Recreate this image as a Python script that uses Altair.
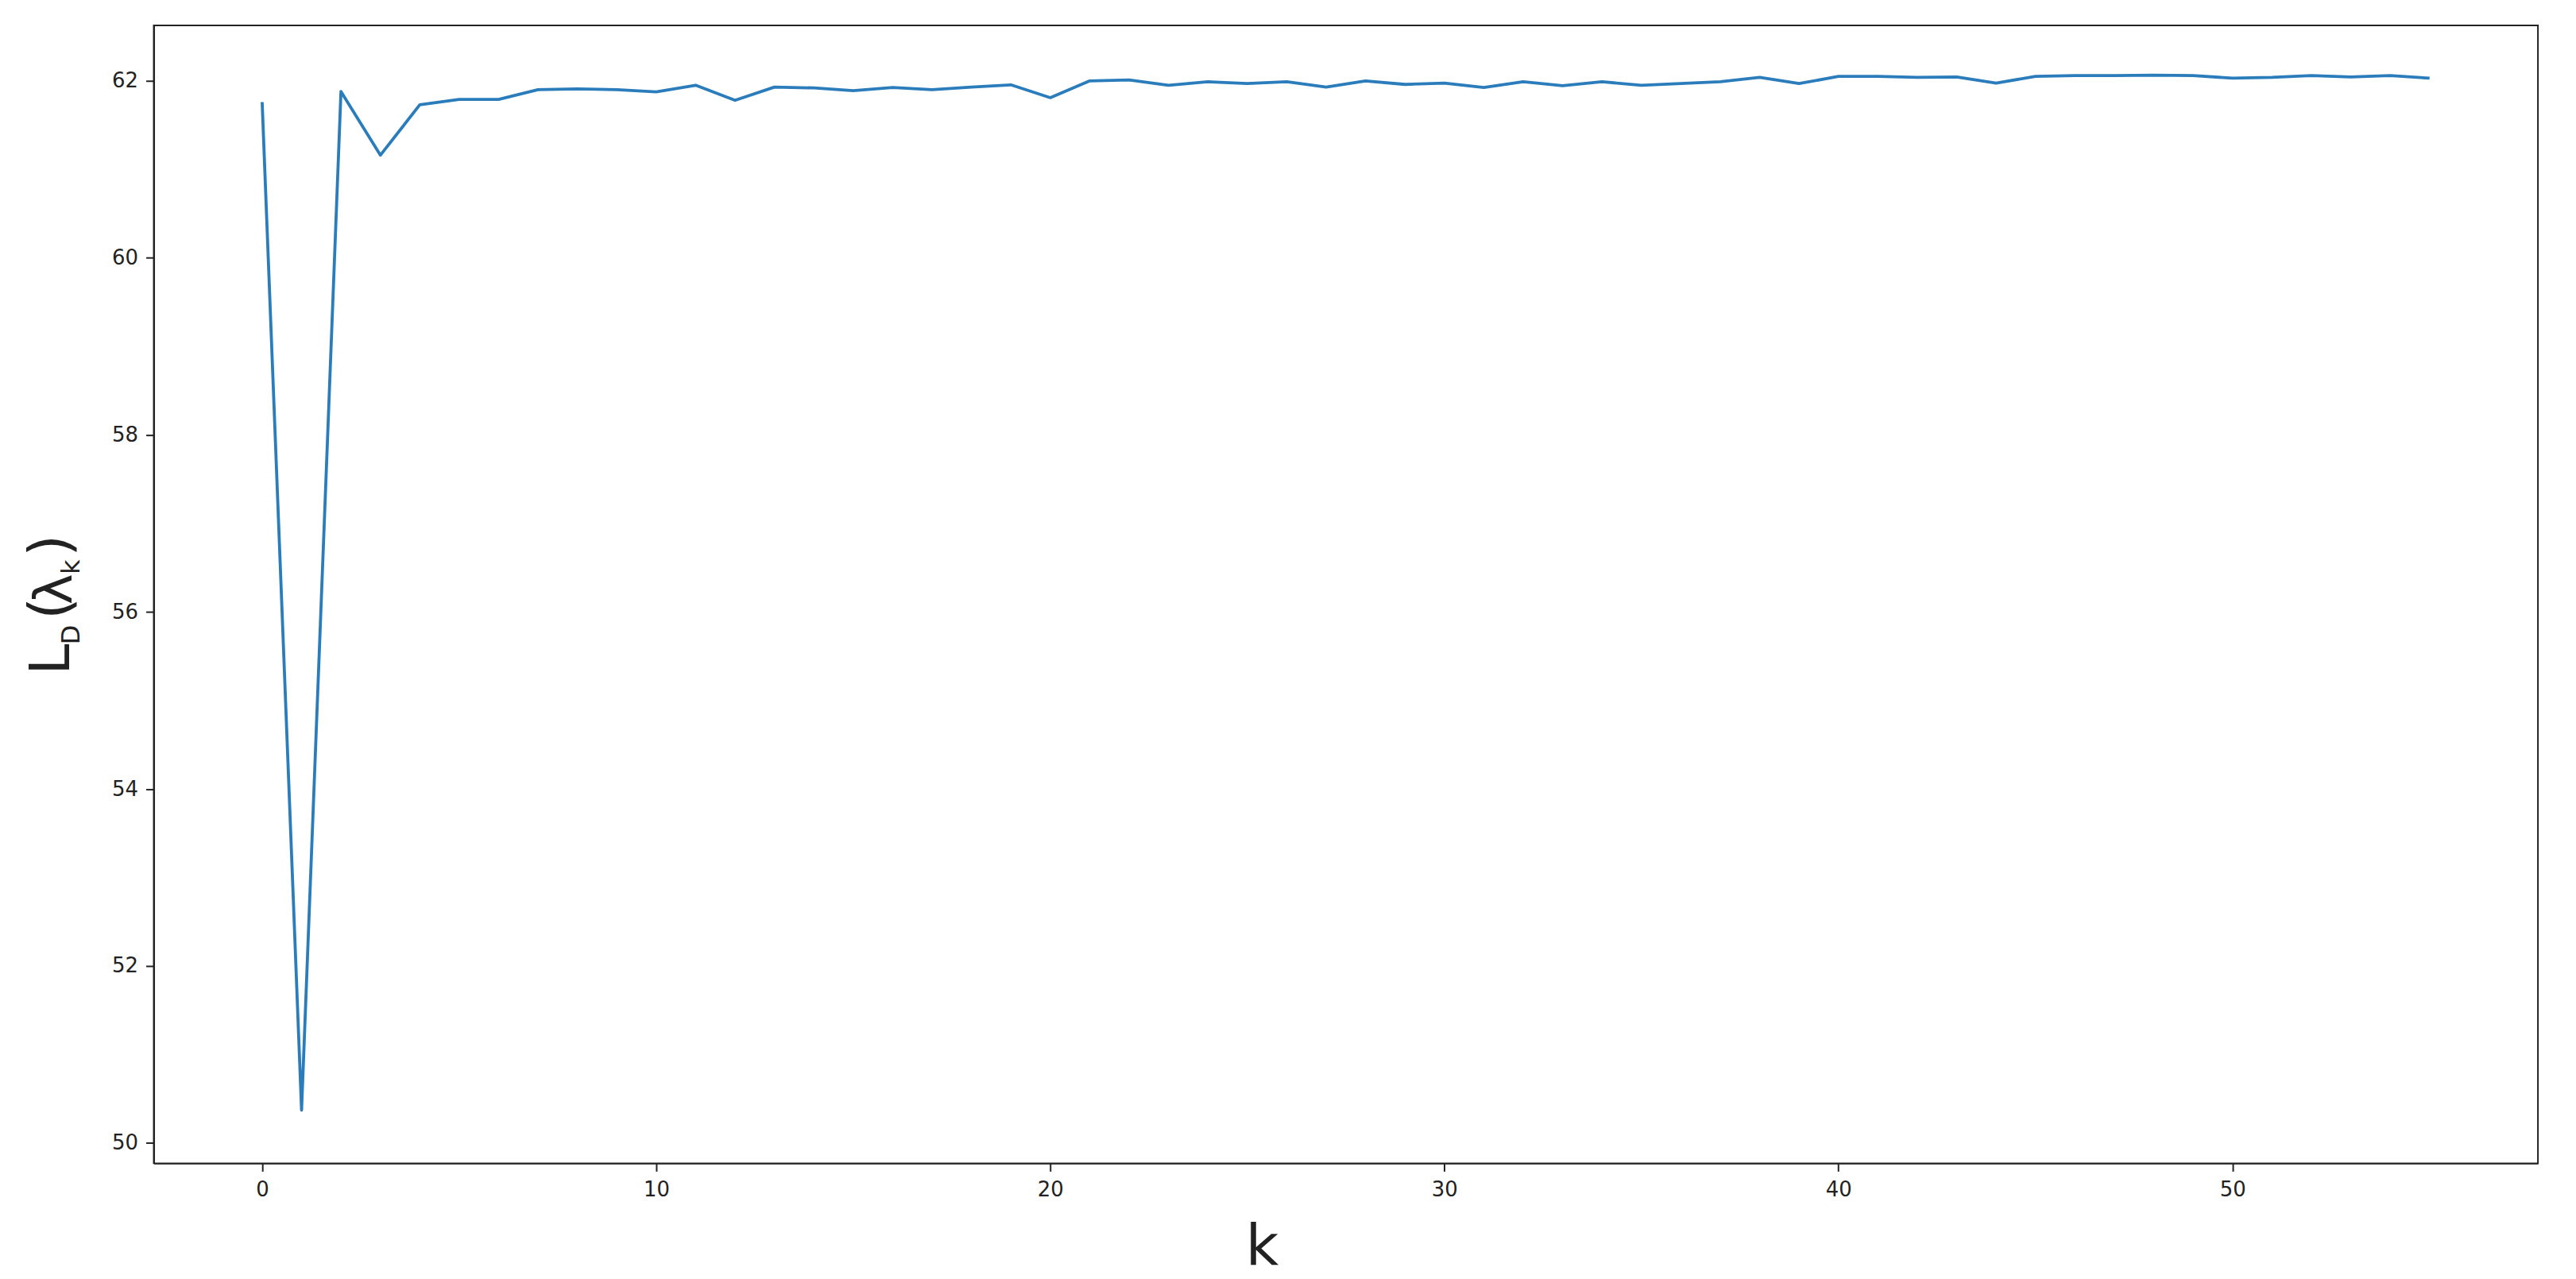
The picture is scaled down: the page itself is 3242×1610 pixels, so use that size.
import altair as alt
import pandas as pd

k_values = list(range(56))
loss_values = [61.76, 50.37, 61.88, 61.16, 61.73, 61.79, 61.79, 61.90, 61.91, 61.90,
               61.875, 61.95, 61.78, 61.93, 61.92, 61.89, 61.925, 61.90, 61.93, 61.955,
               61.81, 62.00, 62.01, 61.95, 61.99, 61.97, 61.99, 61.93, 62.00, 61.96,
               61.975, 61.925, 61.99, 61.945, 61.99, 61.95, 61.97, 61.99, 62.04, 61.97,
               62.05, 62.05, 62.04, 62.045, 61.975, 62.05, 62.06, 62.06, 62.065, 62.06,
               62.03, 62.04, 62.06, 62.045, 62.06, 62.03]
x_ticks = [0, 10, 20, 30, 40, 50]
y_ticks = [50, 52, 54, 56, 58, 60, 62]

df = pd.DataFrame({"k": k_values, "L": loss_values})

W, H = 3008, 1436
TXT = "#222222"
FONT = "DejaVu Sans"

line = alt.Chart(df).mark_line(color="#2a7cba", strokeWidth=3.8, strokeJoin="round").encode(
    x=alt.X("k:Q",
            scale=alt.Scale(domain=[-2.75, 57.75], nice=False, zero=False),
            axis=alt.Axis(values=x_ticks, title="k", titleFontSize=72, titleFont=FONT,
                          titleFontWeight="normal", titleColor=TXT,
                          titleX=1398, titleY=127, titleBaseline="alphabetic",
                          titleAlign="center", titleAngle=0)),
    y=alt.Y("L:Q",
            scale=alt.Scale(domain=[49.77, 62.627], nice=False, zero=False),
            axis=alt.Axis(values=y_ticks, title=None)),
)

# y-axis title pieces: L_D(λ_k)
pieces = [
    ("L", 70, -107, 800),
    ("D", 32, -94, 769),
    ("(", 72, -107, 736),
    ("λ", 66, -104, 711.5),
    ("k", 32, -94, 683.5),
    (")", 72, -107, 656.5),
]
layers = [line]
for txt, size, px, py in pieces:
    layers.append(
        alt.Chart(alt.Data(values=[{"t": txt}])).mark_text(
            text=txt, fontSize=size, font=FONT, color=TXT, angle=270,
            align="center", baseline="alphabetic"
        ).encode(x=alt.value(px), y=alt.value(py))
    )

chart = alt.layer(*layers).properties(
    width=W, height=H,
    autosize=alt.AutoSizeParams(type="none"),
    padding={"left": 186, "top": 22, "right": 40, "bottom": 144},
).configure_view(
    stroke=TXT, strokeWidth=2
).configure_axis(
    grid=False, domainColor=TXT, domainWidth=2, tickColor=TXT, tickWidth=2,
    tickSize=10, labelFontSize=26, labelFont=FONT, labelColor=TXT, labelPadding=10
)

chart.save("out.html", embed_options={"renderer": "svg", "actions": False})
